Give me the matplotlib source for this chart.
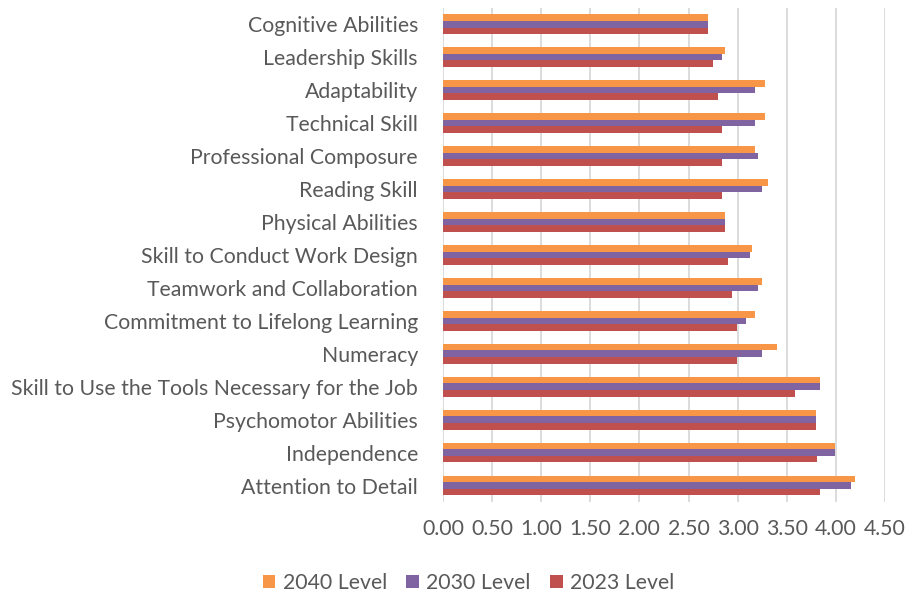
import matplotlib.pyplot as plt
import numpy as np

plt.rcParams['font.family'] = ['Lato', 'DejaVu Sans']

skills = ["Cognitive Abilities", "Leadership Skills", "Adaptability", "Technical Skill",
          "Professional Composure", "Reading Skill", "Physical Abilities",
          "Skill to Conduct Work Design", "Teamwork and Collaboration",
          "Commitment to Lifelong Learning", "Numeracy",
          "Skill to Use the Tools Necessary for the Job", "Psychomotor Abilities",
          "Independence", "Attention to Detail"]
level_2040 = [2.70, 2.87, 3.28, 3.28, 3.18, 3.31, 2.87, 3.15, 3.25, 3.18, 3.40, 3.84, 3.80, 3.99, 4.19]
level_2030 = [2.70, 2.84, 3.18, 3.18, 3.21, 3.25, 2.87, 3.13, 3.21, 3.09, 3.25, 3.84, 3.80, 3.99, 4.15]
level_2023 = [2.70, 2.75, 2.80, 2.84, 2.84, 2.84, 2.87, 2.90, 2.94, 2.99, 2.99, 3.58, 3.80, 3.81, 3.84]
x_ticks = [0, 0.5, 1.0, 1.5, 2.0, 2.5, 3.0, 3.5, 4.0, 4.5]

grey = '#595959'
fig = plt.figure(figsize=(9.07, 5.98), dpi=100)
ax = fig.add_axes([0.4884, 0.1605, 0.4873, 0.8265])

y = np.arange(len(skills))
h = 0.2
ax.barh(y - h, level_2040, height=h, color='#F79646', label='2040 Level', zorder=3)
ax.barh(y, level_2030, height=h, color='#8064A2', label='2030 Level', zorder=3)
ax.barh(y + h, level_2023, height=h, color='#C0504D', label='2023 Level', zorder=3)

ax.set_ylim(len(skills) - 0.5, -0.5)
ax.set_xlim(0, 4.5)
ax.set_xticks(x_ticks)
ax.set_xticklabels([f'{t:.2f}' for t in x_ticks])
ax.set_yticks(y)
ax.set_yticklabels(skills)
ax.tick_params(axis='both', length=0, labelsize=15.3, labelcolor=grey)
ax.tick_params(axis='x', pad=12)
ax.tick_params(axis='y', pad=18)
ax.xaxis.grid(True, color='#D9D9D9', linewidth=1.3, zorder=0)
for s in ax.spines.values():
    s.set_visible(False)

leg = fig.legend(loc='center', ncol=3, bbox_to_anchor=(0.5166, 0.025),
                 frameon=False, fontsize=15.3, handlelength=0.6, handleheight=0.6,
                 columnspacing=0.9, handletextpad=0.35)
for t in leg.get_texts():
    t.set_color(grey)

fig.savefig('out.png', dpi=100)
